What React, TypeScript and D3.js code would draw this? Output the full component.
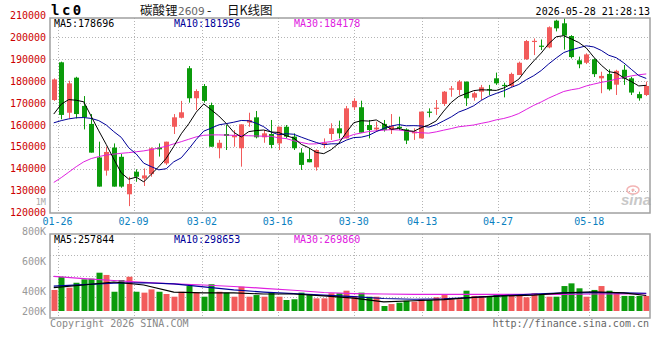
import { useEffect, useRef } from 'react'
import * as d3 from 'd3'

// daily K data, 01-23 .. 05-28 (80 trading days)
const openP = [
  171400, 188600, 165600, 181600, 168700, 160500, 145200, 139200, 149700, 145500,
  128400, 138700, 135600, 137600, 149700, 142500, 159200, 163300, 185900, 172200,
  177800, 169100, 149400, 155900, 154400, 149400, 161100, 163500, 154400, 155900,
  151600, 159200, 154700, 147400, 144500, 140700, 150900, 155900, 158500, 153900,
  168100, 168100, 160000, 158000, 160500, 157700, 159200, 158000, 156200, 153900,
  166100, 167500, 169600, 176300, 176000, 179800, 172500, 175200, 176400, 181300,
  178300, 177800, 182800, 190000, 197900, 196200, 195400, 207600, 206400, 200600,
  189500, 188400, 190000, 181300, 183300, 178400, 185200, 181300, 174100, 173700,
]
const highP = [
  181300, 188900, 180200, 182000, 173200, 165000, 152400, 150100, 151600, 146800,
  136400, 139800, 140200, 149800, 151600, 152400, 165000, 171000, 186900, 176300,
  178700, 170200, 153200, 160000, 157700, 160300, 165600, 166400, 157700, 162300,
  159200, 160000, 156200, 149400, 149400, 148900, 153900, 160800, 162000, 168700,
  172200, 171100, 162300, 161500, 162300, 165000, 163800, 158500, 158500, 166100,
  167600, 171400, 175500, 177800, 180500, 179800, 175200, 178300, 178300, 183900,
  179300, 183900, 188900, 198800, 199500, 199000, 205000, 208000, 209100, 201000,
  191200, 192700, 190400, 184300, 185400, 185200, 187400, 182000, 175200, 179800,
]
const lowP = [
  171000, 162600, 163000, 163000, 158000, 147400, 131900, 136900, 131900, 131400,
  123000, 134100, 132200, 136400, 145600, 141800, 155900, 163000, 170200, 166800,
  170200, 150100, 144800, 148600, 150100, 141000, 159200, 153900, 151900, 149400,
  148600, 153900, 148600, 139500, 143000, 139200, 149400, 153200, 153900, 153900,
  166800, 156500, 153900, 157000, 157000, 155900, 157700, 151300, 153200, 153900,
  163500, 164600, 168700, 172900, 173700, 168700, 171100, 171400, 173700, 178300,
  172600, 177200, 182800, 189700, 191900, 194200, 195000, 202700, 194400, 190400,
  185900, 187800, 181900, 174500, 175700, 173700, 178300, 173700, 171100, 173200,
]
const closeP = [
  180800, 164600, 179000, 165000, 163500, 147400, 131900, 147700, 131900, 131900,
  133100, 136400, 137000, 149400, 148900, 152400, 163500, 165800, 172200, 175500,
  171000, 150100, 151900, 155000, 155400, 160300, 162300, 154400, 156200, 150900,
  159200, 154700, 149400, 141800, 143000, 148600, 151900, 158500, 156200, 167600,
  171000, 156500, 157700, 158800, 157700, 159500, 158500, 152900, 157000, 166100,
  165600, 167900, 175200, 176700, 179800, 172200, 174500, 177200, 176000, 179000,
  177800, 183300, 188400, 198300, 198400, 195800, 204600, 204100, 200800, 191000,
  187700, 192200, 183200, 182400, 176300, 184700, 181100, 174800, 172200, 177800,
]
const ma5 = [
  165000, 169500, 171600, 171300, 170580, 163900, 157360, 151100, 144480, 138160,
  135300, 136200, 134060, 137560, 140960, 144820, 150240, 156000, 160560, 165880,
  169600, 166920, 164140, 160700, 156680, 154540, 156980, 157480, 157720, 156820,
  156600, 155080, 154080, 151200, 149620, 147500, 146940, 148760, 151640, 156560,
  161040, 161960, 161800, 162320, 160340, 158040, 158440, 157480, 157120, 158800,
  160020, 161900, 166360, 170300, 173040, 174360, 175680, 176080, 175940, 175780,
  176900, 178660, 180900, 185360, 189240, 192840, 197100, 200240, 200740, 199260,
  197640, 195160, 190980, 187300, 184360, 183760, 181540, 179860, 177820, 178120,
]
const ma10 = [
  161000, 162000, 162800, 163300, 163400, 163000, 162000, 160000, 157000, 154370,
  149600, 146780, 142580, 141020, 139560, 140060, 143220, 145030, 149060, 153420,
  157210, 158580, 160070, 160630, 161280, 162070, 161950, 160810, 159210, 156750,
  155570, 156030, 155780, 154460, 153220, 152050, 151010, 151420, 151420, 153090,
  154270, 154450, 155280, 156980, 158450, 159540, 160200, 159640, 159720, 159570,
  159030, 160170, 161920, 163710, 165920, 167190, 168790, 171220, 173120, 174410,
  175630, 177170, 178490, 180650, 182510, 184870, 187880, 190570, 193050, 194250,
  195240, 196130, 195610, 194020, 191810, 190700, 188350, 185420, 182560, 181240,
]
const ma30 = [
  133800, 136000, 138500, 141000, 143200, 144700, 145600, 146300, 146700, 147100,
  147400, 147800, 148200, 148800, 149500, 150300, 151400, 152400, 153500, 154600,
  155300, 155500, 155500, 155400, 155300, 155200, 155100, 155000, 154900, 154850,
  154130, 153800, 152810, 152040, 151350, 151390, 152060, 152420, 153230, 154420,
  155680, 156350, 157040, 157360, 157650, 157890, 157720, 157290, 156780, 156470,
  156290, 156880, 157660, 158380, 159200, 159590, 160000, 160760, 161420, 162360,
  162980, 163930, 165230, 167110, 168960, 170530, 172290, 173810, 175300, 176080,
  176630, 177820, 178670, 179460, 180080, 180920, 181670, 182400, 182910, 183300,
]
// volume, thousands
const volumeK = [
  407, 495, 422, 455, 478, 482, 522, 507, 395, 473,
  495, 395, 389, 411, 395, 380, 362, 395, 433, 389,
  362, 445, 395, 389, 362, 429, 362, 373, 362, 389,
  362, 340, 345, 389, 373, 351, 351, 385, 385, 402,
  367, 389, 362, 362, 300, 313, 322, 335, 329, 345,
  340, 358, 373, 345, 345, 402, 367, 367, 367, 373,
  373, 373, 367, 358, 385, 373, 362, 362, 433, 451,
  418, 362, 407, 433, 402, 389, 367, 367, 367, 367,
]
const volMaIdx = [0, 4, 8, 12, 16, 20, 24, 28, 32, 36, 40, 44, 48, 52, 56, 60, 64, 68, 72, 76, 79]
const volMa5K = [423, 440, 460, 440, 393, 387, 387, 380, 380, 367, 353, 327, 335, 343, 357, 367, 373, 387, 395, 387, 370]
const volMa10K = [433, 443, 453, 455, 447, 427, 407, 393, 383, 373, 363, 350, 345, 348, 357, 370, 380, 387, 389, 387, 385]
const volMa30K = [497, 483, 470, 458, 448, 440, 430, 418, 405, 390, 383, 380, 378, 378, 377, 377, 377, 378, 380, 381, 383]

// legend readouts as printed on the chart
const priceMaText = ['178696', '181956', '184178']
const volMaText = ['257844', '298653', '269860']

const priceTicks = [120000, 130000, 140000, 150000, 160000, 170000, 180000, 190000, 200000, 210000]
const volTicks = [800000, 600000, 400000, 200000]
const volTickLabels = ['800K', '600K', '400K', '200K']
const dateLabels = ['01-26', '02-09', '03-02', '03-16', '03-30', '04-13', '04-27', '05-18']
const dateIdx = [1, 11, 20, 30, 40, 49, 59, 71]

const RED = '#f25b5b'
const GREEN = '#0b9b0b'
const MA5C = '#000000'
const MA10C = '#000099'
const MA30C = '#e020e0'
const MONO = '"DejaVu Sans Mono", "Liberation Mono", monospace'

const App = () => {
  const svgRef = useRef(null)

  useEffect(() => {
    const svg = d3.select(svgRef.current)
    svg.selectAll('*').remove()

    const L = 50, R = 650
    const mainTop = 18, mainBot = 213
    const volTop = 234, volBot = 318, volBase = 311

    const n = closeP.length
    const idx = d3.range(n)
    const x = d3.scaleBand().domain(idx).range([L, R])
    const xg = d3.scalePoint().domain(idx).range([L, R])
    const cx = (i) => x(i) + x.bandwidth() / 2
    const y = d3.scaleLinear().domain([120000, 210000]).range([212.7, 15.4])
    const yv = d3.scaleLinear().domain([200000, 800000]).range([321, 231])
    const crisp = (v) => Math.round(v) + 0.5

    svg.append('rect').attr('width', 660).attr('height', 360).attr('fill', '#fff')

    const defs = svg.append('defs')
    defs.append('clipPath').attr('id', 'clipMain')
      .append('rect').attr('x', L).attr('y', mainTop).attr('width', R - L).attr('height', mainBot - mainTop)
    defs.append('clipPath').attr('id', 'clipVol')
      .append('rect').attr('x', L).attr('y', volTop).attr('width', R - L).attr('height', volBot - volTop)

    // grid
    const grid = svg.append('g').attr('stroke', '#b4b4b4').attr('stroke-dasharray', '1,2').attr('stroke-width', 1)
    priceTicks.filter((v) => v > 120000 && v < 210000).forEach((v) => {
      grid.append('line').attr('x1', L).attr('x2', R).attr('y1', crisp(y(v))).attr('y2', crisp(y(v)))
    })
    dateIdx.forEach((i) => {
      const gx = crisp(xg(i))
      grid.append('line').attr('x1', gx).attr('x2', gx).attr('y1', mainTop).attr('y2', mainBot)
      grid.append('line').attr('x1', gx).attr('x2', gx).attr('y1', volTop).attr('y2', volBot)
    })
    d3.range(1, 4).forEach((k) => {
      const gy = crisp(volTop + (k * (volBot - volTop)) / 4)
      grid.append('line').attr('x1', L).attr('x2', R).attr('y1', gy).attr('y2', gy)
    })

    // sina watermark
    const logo = svg.append('g')
    logo.append('ellipse').attr('cx', 633).attr('cy', 190).attr('rx', 6).attr('ry', 4)
      .attr('fill', 'none').attr('stroke', '#f3b4b4').attr('stroke-width', 1.5)
    logo.append('circle').attr('cx', 633).attr('cy', 190).attr('r', 1.6).attr('fill', '#f3b4b4')
    logo.append('text').attr('x', 636).attr('y', 205).attr('text-anchor', 'middle')
      .attr('font-family', '"Liberation Sans", Arial, sans-serif').attr('font-style', 'italic')
      .attr('font-weight', 'bold').attr('font-size', 15).attr('fill', '#c8c8c8').text('sina')

    // candles
    const cg = svg.append('g').attr('clip-path', 'url(#clipMain)')
    idx.forEach((i) => {
      const up = closeP[i] >= openP[i]
      const col = up ? RED : GREEN
      const xc = Math.round(cx(i))
      cg.append('line').attr('x1', xc + 0.5).attr('x2', xc + 0.5)
        .attr('y1', y(highP[i])).attr('y2', y(lowP[i])).attr('stroke', col).attr('stroke-width', 1)
      const top = y(Math.max(openP[i], closeP[i]))
      const h = Math.max(1.2, Math.abs(y(openP[i]) - y(closeP[i])))
      cg.append('rect').attr('x', xc - 2).attr('y', top).attr('width', 5).attr('height', h).attr('fill', col)
    })

    // price MA lines
    const line = d3.line().x((d, i) => cx(i)).y((d) => y(d))
    ;[[ma30, MA30C], [ma10, MA10C], [ma5, MA5C]].forEach(([arr, col]) => {
      cg.append('path').datum(arr).attr('d', line).attr('fill', 'none').attr('stroke', col).attr('stroke-width', 1)
    })

    // volume bars
    const vg = svg.append('g').attr('clip-path', 'url(#clipVol)')
    idx.forEach((i) => {
      const up = closeP[i] >= openP[i]
      const top = yv(volumeK[i] * 1000)
      vg.append('rect').attr('x', Math.round(cx(i)) - 2.5).attr('y', top).attr('width', 6)
        .attr('height', volBase - top).attr('fill', up ? RED : GREEN)
    })
    const vline = d3.line().x((d, k) => cx(volMaIdx[k])).y((d) => yv(d * 1000))
    ;[[volMa30K, MA30C], [volMa10K, MA10C], [volMa5K, MA5C]].forEach(([arr, col]) => {
      vg.append('path').datum(arr).attr('d', vline).attr('fill', 'none').attr('stroke', col).attr('stroke-width', 1.2)
    })

    // panel borders
    const border = svg.append('g').attr('fill', 'none').attr('stroke', '#a0a0a0').attr('stroke-width', 1.5)
    border.append('rect').attr('x', L).attr('y', mainTop).attr('width', R - L).attr('height', mainBot - mainTop)
    border.append('rect').attr('x', L).attr('y', volTop).attr('width', R - L).attr('height', volBot - volTop)

    // axis labels
    const txt = svg.append('g').attr('font-family', MONO).attr('font-size', 10)
    priceTicks.forEach((v) => {
      txt.append('text').attr('x', 46).attr('y', y(v)).attr('dy', '0.35em').attr('text-anchor', 'end')
        .attr('fill', '#cc0000').text(v)
    })
    txt.append('text').attr('x', 46).attr('y', 202.5).attr('dy', '0.35em').attr('text-anchor', 'end')
      .attr('font-size', 8.5).attr('fill', '#a8a8a8').text('1M')
    volTicks.forEach((v, k) => {
      txt.append('text').attr('x', 46).attr('y', Math.min(yv(v), volBase)).attr('dy', '0.35em')
        .attr('text-anchor', 'end').attr('fill', '#999').text(volTickLabels[k])
    })
    dateIdx.forEach((i, k) => {
      txt.append('text').attr('x', xg(i)).attr('y', 225).attr('text-anchor', 'middle')
        .attr('fill', '#0a7fc0').text(dateLabels[k])
    })

    // legends
    const legend = (yy, vals) => {
      ;[['MA5:', MA5C, 54], ['MA10:', MA10C, 174], ['MA30:', MA30C, 294]].forEach(([lab, col, lx], k) => {
        txt.append('text').attr('x', lx).attr('y', yy).attr('fill', col).text(lab + vals[k])
      })
    }
    legend(27, priceMaText)
    legend(243, volMaText)

    // header
    svg.append('text').attr('x', 51).attr('y', 15).attr('font-family', MONO).attr('font-weight', 'bold')
      .attr('font-size', 14).attr('letter-spacing', 2.5).attr('fill', '#000').text('lc0')
    const cjk = '"Noto Sans CJK SC", sans-serif'
    svg.append('text').attr('x', 140).attr('y', 15).attr('font-family', cjk).attr('font-size', 12.5).attr('fill', '#111').text('碳酸锂')
    svg.append('text').attr('x', 178).attr('y', 15).attr('font-family', '"DejaVu Sans", sans-serif').attr('font-size', 10.5).attr('fill', '#666').text('2609')
    svg.append('text').attr('x', 207).attr('y', 15).attr('font-family', cjk).attr('font-size', 12.5).attr('fill', '#111').text('-')
    svg.append('text').attr('x', 227).attr('y', 15).attr('font-family', cjk).attr('font-size', 12.5).attr('fill', '#111').text('日K线图')
    svg.append('text').attr('x', 650).attr('y', 15).attr('text-anchor', 'end').attr('font-family', MONO)
      .attr('font-size', 10).attr('fill', '#000').text('2026-05-28 21:28:13')

    // footer
    svg.append('text').attr('x', 50).attr('y', 327).attr('font-family', MONO).attr('font-size', 10)
      .attr('fill', '#888').text('Copyright 2026 SINA.COM')
    svg.append('text').attr('x', 649).attr('y', 327).attr('text-anchor', 'end').attr('font-family', MONO)
      .attr('font-size', 10).attr('fill', '#666').text('http://finance.sina.com.cn')
  }, [])

  return (
    <svg ref={svgRef} width={660} height={360} style={{ position: 'absolute', left: 0, top: 0, display: 'block' }} />
  )
}

export default App
